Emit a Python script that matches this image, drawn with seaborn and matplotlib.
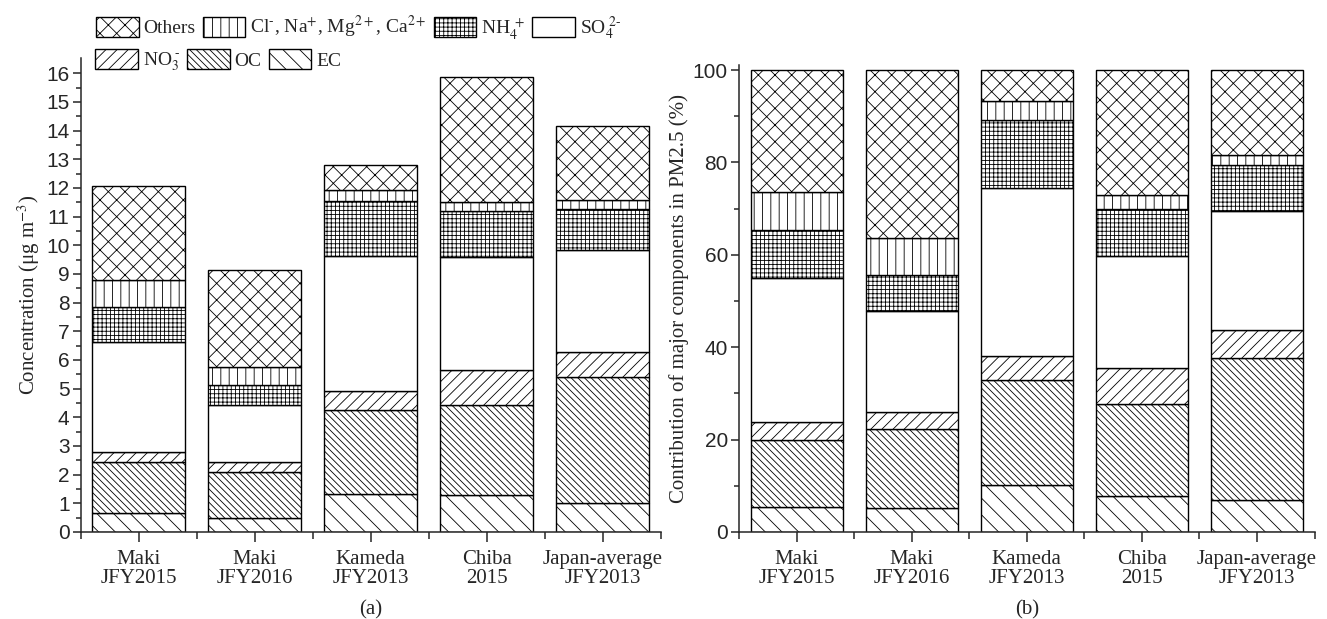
import matplotlib
matplotlib.use('Agg')

import numpy as np
import matplotlib.pyplot as plt
import seaborn as sns
from matplotlib.patches import Patch

# DATA
sites = ["Maki\nJFY2015", "Maki\nJFY2016", "Kameda\nJFY2013", "Chiba\n2015",
         "Japan-average\nJFY2013"]

components = ["EC", "OC", "NO3", "SO4", "NH4", "Cl", "Others"]

# concentration, ug m-3 (panel a)
conc_ec = [0.65, 0.50, 1.33, 1.28, 1.00]
conc_oc = [1.80, 1.60, 2.92, 3.15, 4.40]
conc_no3 = [0.35, 0.35, 0.66, 1.23, 0.87]
conc_so4 = [3.82, 1.98, 4.72, 3.93, 3.56]
conc_nh4 = [1.22, 0.71, 1.92, 1.61, 1.43]
conc_cl = [0.96, 0.61, 0.37, 0.31, 0.31]
conc_others = [3.26, 3.38, 0.88, 4.34, 2.60]

# contribution, % (panel b)
pct_ec = [5.3, 5.2, 10.2, 7.8, 6.9]
pct_oc = [14.6, 17.0, 22.6, 20.0, 30.8]
pct_no3 = [3.9, 3.8, 5.3, 7.6, 6.1]
pct_so4 = [31.2, 21.9, 36.3, 24.3, 25.7]
pct_nh4 = [10.3, 7.8, 14.7, 10.2, 10.0]
pct_cl = [8.2, 7.9, 4.1, 3.1, 2.1]
pct_others = [26.5, 36.4, 6.8, 27.0, 18.4]

legend_labels = {
    "Others": "Others",
    "Cl": "Cl$^{\\text{-}}$, Na$^{+}$, Mg$^{2+}$, Ca$^{2+}$",
    "NH4": "NH$_4^{\\ +}$",
    "SO4": "SO$_4^{\\ 2\\text{-}}$",
    "NO3": "NO$_3^{\\ \\text{-}}$",
    "OC": "OC",
    "EC": "EC",
}

hatches = {
    "EC": "\\\\",
    "OC": "\\\\\\\\\\",
    "NO3": "///",
    "SO4": "",
    "NH4": "++++",
    "Cl": "||",
    "Others": "xx",
}

conc = dict(zip(components, [conc_ec, conc_oc, conc_no3, conc_so4,
                             conc_nh4, conc_cl, conc_others]))
pct = dict(zip(components, [pct_ec, pct_oc, pct_no3, pct_so4,
                            pct_nh4, pct_cl, pct_others]))

# STYLE
sns.set_style("ticks")
plt.rcParams["font.family"] = ["Liberation Serif", "DejaVu Serif"]
plt.rcParams["mathtext.fontset"] = "stix"
plt.rcParams["hatch.linewidth"] = 0.6
plt.rcParams["axes.linewidth"] = 1.1

fig = plt.figure(figsize=(13.27, 6.19), dpi=100)
ax1 = fig.add_axes([0.0608, 0.1406, 0.4371, 0.7657])
ax2 = fig.add_axes([0.5569, 0.1406, 0.4337, 0.7544])


def stacked(ax, data):
    bottom = np.zeros(len(sites))
    for comp in components:
        vals = np.array(data[comp])
        sns.barplot(x=sites, y=vals, bottom=bottom, color="white",
                    edgecolor="black", linewidth=1.0, hatch=hatches[comp],
                    saturation=1, width=0.8, errorbar=None, ax=ax)
        bottom = bottom + vals


stacked(ax1, conc)
stacked(ax2, pct)

for ax in (ax1, ax2):
    ax.set_xlim(-0.5, 4.5)
    ax.set_xticks(range(len(sites)))
    ax.set_xticklabels(sites, fontsize=15, linespacing=1.0,
                       family=["Liberation Serif"])
    ax.set_xticks(np.arange(-0.5, 5.0, 1.0), minor=True)
    ax.tick_params(axis="x", which="major", direction="out", length=7,
                   width=1.1, pad=6)
    ax.tick_params(axis="x", which="minor", direction="out", length=5,
                   width=1.1)
    ax.tick_params(axis="y", which="major", direction="out", length=6,
                   width=1.1, labelsize=15, pad=2)
    ax.tick_params(axis="y", which="minor", direction="out", length=3.5,
                   width=1.1)
    sns.despine(ax=ax)

ax1.set_ylim(0, 16.53)
ax1.set_yticks(range(0, 17))
ax1.set_yticks(np.arange(0.5, 16.5, 1.0), minor=True)
for lab in ax1.get_yticklabels():
    lab.set_family(["Liberation Sans"])
ax1.set_ylabel("Concentration (μg m$^{-3}$)", fontsize=15, labelpad=3)
ax1.set_xlabel("(a)", fontsize=15, labelpad=9)

ax2.set_ylim(0, 101.1)
ax2.set_yticks(range(0, 101, 20))
ax2.set_yticks(range(10, 100, 20), minor=True)
for lab in ax2.get_yticklabels():
    lab.set_family(["Liberation Sans"])
ax2.set_ylabel("Contribution of major components in PM2.5 (%)", fontsize=15,
               labelpad=3)
ax2.set_xlabel("(b)", fontsize=15, labelpad=9)

# LEGEND (two rows, packed)
def handles_for(keys):
    return [Patch(facecolor="white", edgecolor="black", linewidth=1.0,
                  hatch=hatches[k], label=legend_labels[k]) for k in keys]


row1 = ["Others", "Cl", "NH4", "SO4"]
row2 = ["NO3", "OC", "EC"]
leg_kw = dict(loc="upper left", frameon=False, fontsize=14, borderpad=0,
              borderaxespad=0, handlelength=2.2, handleheight=1.2,
              handletextpad=0.25, columnspacing=0.35)
leg1 = fig.legend(handles=handles_for(row1), ncol=4,
                  bbox_to_anchor=(96 / 1327, 1 - 14 / 619), **leg_kw)
leg2 = fig.legend(handles=handles_for(row2), ncol=3,
                  bbox_to_anchor=(95 / 1327, 1 - 49 / 619), **leg_kw)

fig.savefig("out.png", dpi=100)
plt.close(fig)
print("Saved: out.png")
